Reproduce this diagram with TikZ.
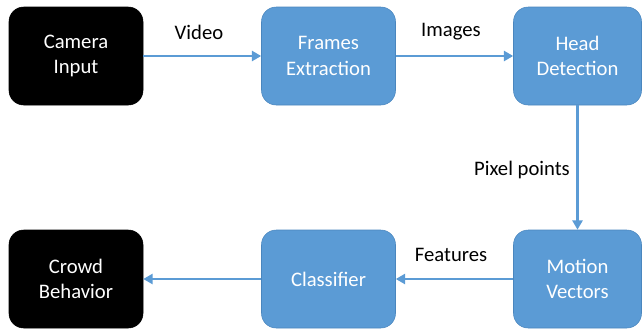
\documentclass[tikz,border=0pt]{standalone}
\usepackage{fontspec}
\setmainfont{Carlito}
\usepackage{xcolor}
\usepackage{tikz}
\usetikzlibrary{arrows.meta}
\definecolor{stageblue}{HTML}{5B9BD5}
\definecolor{stageedge}{HTML}{4A86BE}
\tikzstyle{node:io}=[rectangle,rounded corners=11pt,draw=black,fill=black,text=white,minimum width=100.5pt,minimum height=73.5pt,align=center,font=\fontsize{15.5}{19}\selectfont]
\tikzstyle{node:stage}=[rectangle,rounded corners=11pt,draw=stageedge,fill=stageblue,text=white,minimum width=100.5pt,minimum height=73.5pt,align=center,font=\fontsize{15.5}{19}\selectfont]
\tikzstyle{node:label}=[text=black,font=\fontsize{15.5}{19}\selectfont]
\tikzstyle{draw:connection}=[-{Triangle[length=7pt,width=7.5pt]}, line width=2.2pt, stageblue]
\begin{document}
\begin{tikzpicture}[x=0.75pt, y=-0.75pt]
        \useasboundingbox (0,0) rectangle (642,330);

        % Top row
        \node[node:io] (camera) at (76,56) {Camera\\Input};
        \node[node:stage] (frames) at (328.5,56) {Frames\\Extraction};
        \node[node:stage, minimum width=96pt] (head) at (577.5,56) {Head\\Detection};

        % Bottom row
        \node[node:io] (crowd) at (76,279) {Crowd\\Behavior};
        \node[node:stage] (classifier) at (328.5,279) {Classifier};
        \node[node:stage, minimum width=96pt] (motion) at (577.5,279) {Motion\\Vectors};

        % Connections
        \draw[draw:connection] (camera) -- (frames);
        \draw[draw:connection] (frames) -- (head);
        \draw[draw:connection] (head) -- (motion);
        \draw[draw:connection] (motion) -- (classifier);
        \draw[draw:connection] (classifier) -- (crowd);

        % Labels
        \node[node:label] (lvideo) at (199,32) {Video};
        \node[node:label] (limages) at (451,32) {Images};
        \node[node:label] (lpixel) at (522,170) {Pixel points};
        \node[node:label] (lfeatures) at (451,255) {Features};

    \end{tikzpicture}
\end{document}
